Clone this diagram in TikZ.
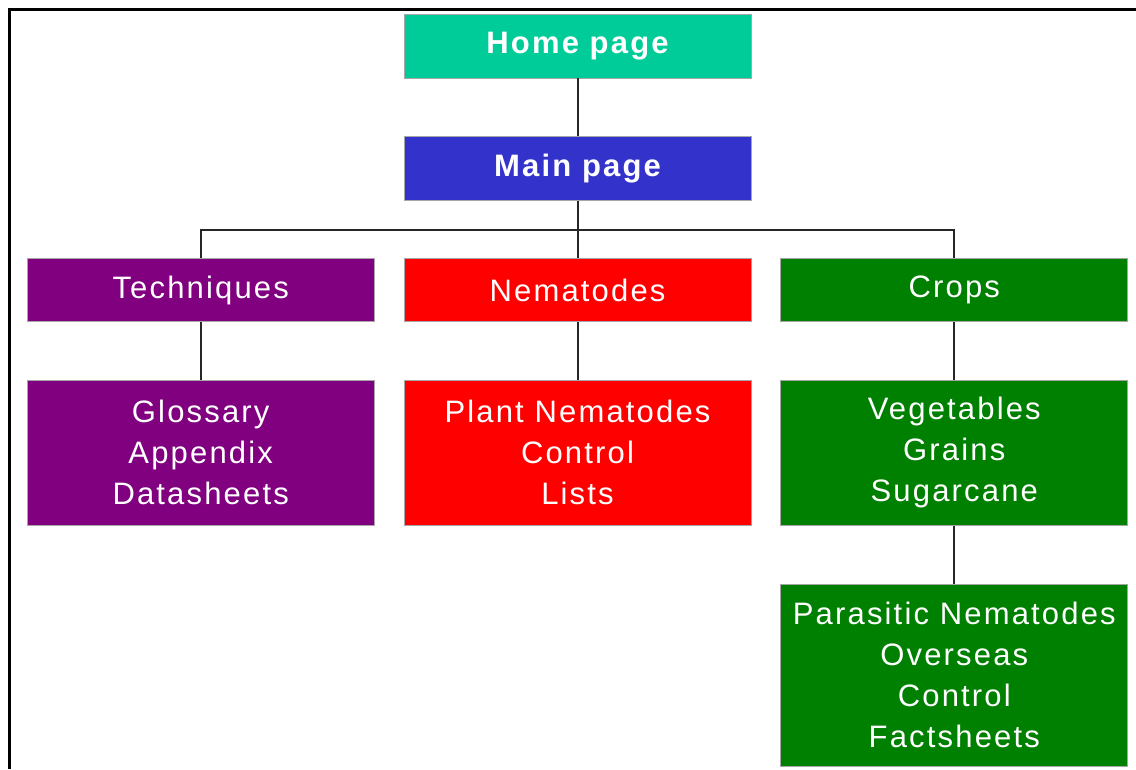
\documentclass[tikz,border=0pt]{standalone}
\usepackage{fontspec}
\setmainfont{Liberation Sans}[LetterSpace=7]
\usetikzlibrary{positioning,calc}
\definecolor{hometeal}{RGB}{0,204,153}
\definecolor{mainblue}{RGB}{51,51,204}
\definecolor{techpurple}{RGB}{128,0,128}
\definecolor{nemred}{RGB}{255,0,0}
\definecolor{cropgreen}{RGB}{0,128,0}
\tikzset{
  site/box/.style={draw=black!35, line width=0.8pt, text=white, inner sep=2pt, align=center,
    minimum width=347pt, font=\fontsize{31}{41}\selectfont},
  site/head/.style={site/box, minimum height=64pt, font=\fontsize{31}{36}\selectfont\bfseries},
  site/topic/.style={site/box, minimum height=63pt},
  site/list/.style={site/box, minimum height=145pt},
  site/line/.style={line width=2pt, black!85},
  site/frame/.style={line width=3pt}
}

\begin{document}
\begin{tikzpicture}[x=1pt,y=-1pt,node distance=58pt and 29pt]
  \useasboundingbox (0,0) rectangle (1136,769);
  \draw[site/frame] (9,769) -- (9,9) -- (1136,9);

  \node[site/head, fill=hometeal] (home) at (577.5,46) {Home page};
  \node[site/head, fill=mainblue, below=of home] (main) {Main page};

  \node[site/topic, fill=nemred, below=57pt of main] (nem) {Nematodes};
  \node[site/topic, fill=techpurple, left=of nem] (tech) {Techniques};
  \node[site/topic, fill=cropgreen, right=of nem] (crops) {Crops};

  \node[site/list, fill=techpurple, below=of tech] (techlist) {Glossary\\Appendix\\Datasheets};
  \node[site/list, fill=nemred, below=of nem] (nemlist) {Plant Nematodes\\Control\\Lists};
  \node[site/list, fill=cropgreen, below=of crops] (croplist) {Vegetables\\Grains\\Sugarcane};
  \node[site/box, fill=cropgreen, minimum height=182pt, below=of croplist] (overseas)
    {Parasitic Nematodes\\Overseas\\Control\\Factsheets};

  \draw[site/line] (home) -- (main);
  \draw[site/line] (main) -- (nem);
  \draw[site/line] (tech.north) |- ($(main.south)!0.5!(nem.north)$) -| (crops.north);
  \draw[site/line] (tech) -- (techlist);
  \draw[site/line] (nem) -- (nemlist);
  \draw[site/line] (crops) -- (croplist);
  \draw[site/line] (croplist) -- (overseas);
\end{tikzpicture}
\end{document}
